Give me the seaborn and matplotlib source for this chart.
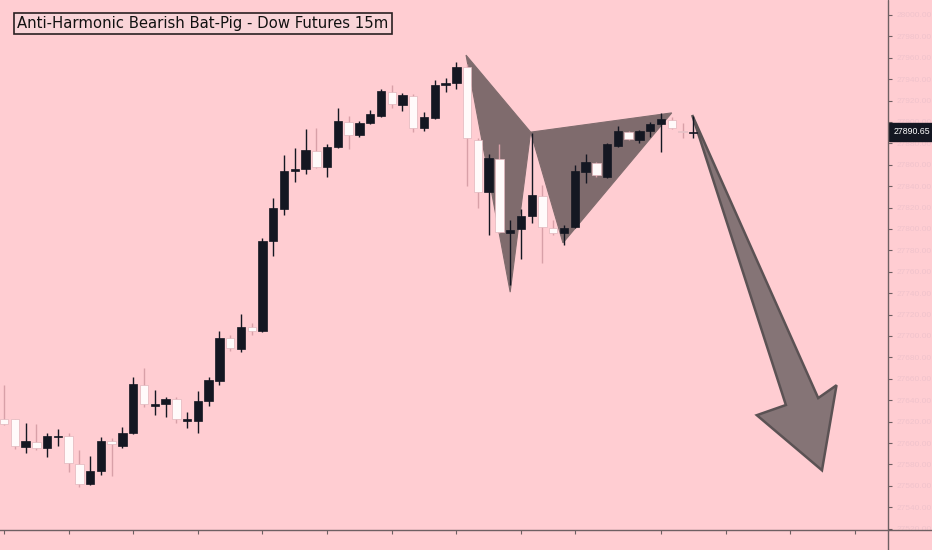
import matplotlib
matplotlib.use("Agg")
import matplotlib.pyplot as plt
from matplotlib.lines import Line2D
from matplotlib.patches import Polygon
import numpy as np
import pandas as pd
import seaborn as sns

# ---------------- data ----------------
opens = [27622, 27622, 27596, 27601, 27595, 27606, 27607, 27580, 27562, 27574,
         27602, 27597, 27609, 27654, 27635, 27636, 27641, 27621, 27621, 27639,
         27658, 27698, 27688, 27708, 27705, 27789, 27819, 27854, 27856, 27873,
         27858, 27877, 27900, 27888, 27899, 27906, 27928, 27916, 27924, 27894,
         27904, 27935, 27936, 27951, 27883, 27835, 27865, 27796, 27800, 27812,
         27831, 27801, 27796, 27802, 27853, 27862, 27849, 27878, 27891, 27883,
         27892, 27898, 27902, 27892, 27889.5]
highs = [27654, 27622, 27619, 27618, 27609, 27613, 27609, 27593, 27588, 27606,
         27605, 27615, 27662, 27670, 27650, 27643, 27643, 27629, 27649, 27662,
         27705, 27701, 27721, 27712, 27792, 27829, 27869, 27876, 27893, 27894,
         27879, 27913, 27906, 27901, 27911, 27931, 27935, 27927, 27926, 27909,
         27939, 27941, 27956, 27954, 27885, 27870, 27879, 27808, 27819, 27890,
         27841, 27808, 27804, 27860, 27870, 27863, 27880, 27896, 27892, 27892.5,
         27900, 27908, 27904.5, 27899, 27906]
lows = [27617, 27594, 27591, 27593, 27587, 27597, 27573, 27559, 27561, 27570,
        27569, 27595, 27608, 27634, 27626, 27624, 27619, 27614, 27609, 27635,
        27654, 27686, 27685, 27701, 27704, 27775, 27813, 27844, 27851, 27857,
        27849, 27876, 27875, 27886, 27898, 27905, 27913, 27910, 27891, 27892,
        27903, 27928, 27931, 27840, 27820, 27794, 27796, 27748, 27772, 27806,
        27768, 27794, 27785, 27801, 27843, 27849, 27848, 27877, 27883, 27880,
        27886, 27872, 27893, 27885, 27885]
closes = [27618, 27597, 27602, 27595, 27607, 27607, 27581, 27562, 27574, 27602,
          27599, 27609, 27655, 27636, 27636, 27641, 27622, 27622, 27639, 27659,
          27698, 27689, 27708, 27705, 27789, 27820, 27854, 27856, 27874, 27858,
          27877, 27901, 27888, 27899, 27907, 27929, 27917, 27925, 27894, 27905,
          27935, 27936, 27951, 27885, 27835, 27866, 27797, 27799, 27812, 27832,
          27802, 27796, 27801, 27854, 27863, 27850, 27879, 27892, 27884, 27892,
          27898, 27903, 27894, 27891, 27890.65]

# harmonic pattern points (bar index, price)
pattern_x = [42.9, 47.0, 48.9, 51.9, 62.0]
pattern_y = [27962.5, 27741, 27890.5, 27787, 27908.5]

# projection arrow outline (bar index, price)
arrow_x = [63.9, 75.6, 77.3, 75.95, 69.9, 72.6]
arrow_y = [27906.5, 27642, 27654, 27574.5, 27626, 27635.5]

# time-axis tick bars (session break shifts the later ones)
time_ticks = [0, 6, 12, 18, 24, 30, 36, 42, 48, 53, 61, 67, 73, 79]
price_ticks = list(range(27520, 28001, 20))

title = "Anti-Harmonic Bearish Bat-Pig - Dow Futures 15m"
last_label = "27890.65"

# ---------------- styling ----------------
BG = "#ffcdd2"
DARK = "#141722"
WHITE = "#fffafa"
AXC = "#6e5f62"
sns.set_theme(style="white", rc={"axes.facecolor": BG, "figure.facecolor": BG})
plt.rcParams["font.family"] = ["DejaVu Sans"]

df = pd.DataFrame({"open": opens, "high": highs, "low": lows, "close": closes})
df["idx"] = np.arange(len(df))
df["up"] = df["close"] >= df["open"]

fig = plt.figure(figsize=(9.32, 5.50), dpi=100)
ax = fig.add_axes([0, 20 / 550, 888 / 932, 530 / 550])
ax.set_facecolor(BG)

# pattern triangles
for pts in (slice(0, 3), slice(2, 5)):
    ax.add_patch(Polygon(list(zip(pattern_x[pts], pattern_y[pts])), closed=True,
                         facecolor="#7f6b6d", edgecolor="#7f6b6d", lw=0.8, zorder=1))

# arrow
ax.add_patch(Polygon(list(zip(arrow_x, arrow_y)), closed=True,
                     facecolor="#857476", edgecolor="#5b5254", lw=1.8, zorder=1))

# candles
up = df[df["up"]]
dn = df[~df["up"]]
ax.vlines(up["idx"], up["low"], up["high"], color=DARK, lw=1.0, zorder=2)
ax.vlines(dn["idx"], dn["low"], dn["high"], color="#d8a0a8", lw=1.0, zorder=2)
w = 0.78
ax.bar(up["idx"], (up["close"] - up["open"]).clip(lower=0.9), bottom=up["open"],
       width=w, color=DARK, edgecolor=DARK, lw=0.5, zorder=3)
ax.bar(dn["idx"], (dn["open"] - dn["close"]).clip(lower=0.9), bottom=dn["close"],
       width=w, color=WHITE, edgecolor="#e2b6bc", lw=0.5, zorder=3)

ax.set_xlim(-0.371, 82.08)
ax.set_ylim(27518.7, 28014.0)

# axes look
for s in ["top", "left", "right"]:
    ax.spines[s].set_visible(False)
ax.spines["bottom"].set_color(AXC)
ax.spines["bottom"].set_linewidth(1.0)
ax.yaxis.tick_right()
ax.set_yticks(price_ticks)
ax.set_yticklabels([f"{v:.2f}" for v in price_ticks], fontsize=6.0, color="#f0c3cc",
                   family=["Liberation Sans", "DejaVu Sans"])
ax.tick_params(axis="y", length=3, width=0.8, color=AXC, pad=3, right=True)
ax.set_xticks(time_ticks)
ax.set_xticklabels([])
ax.tick_params(axis="x", length=3, width=0.8, color=AXC, bottom=True)
ax.grid(False)

# figure-level axis lines (price scale separator and time axis)
fig.add_artist(Line2D([888 / 932, 888 / 932], [0, 1], color=AXC, lw=1.0,
                      transform=fig.transFigure))
fig.add_artist(Line2D([888 / 932, 1], [20 / 550, 20 / 550], color=AXC, lw=1.0,
                      transform=fig.transFigure))

# title box
ax.text(17 / 888, 1 - 23.5 / 530, title, transform=ax.transAxes, ha="left", va="center",
        fontsize=10.75, color="#111111",
        bbox=dict(boxstyle="square,pad=0.22", facecolor="#f9d4d8", edgecolor="#2a2022", lw=1.2),
        zorder=5)

# last price label
ax.annotate(last_label, xy=(1.0, closes[-1]), xycoords=ax.get_yaxis_transform(),
            xytext=(4.2, 0), textcoords="offset points", ha="left", va="center",
            fontsize=6.3, color="white", family=["Liberation Sans", "DejaVu Sans"],
            bbox=dict(boxstyle="square,pad=0.5", facecolor=DARK, edgecolor=DARK),
            annotation_clip=False, zorder=6)

fig.savefig("out.png", dpi=100, facecolor=BG)
